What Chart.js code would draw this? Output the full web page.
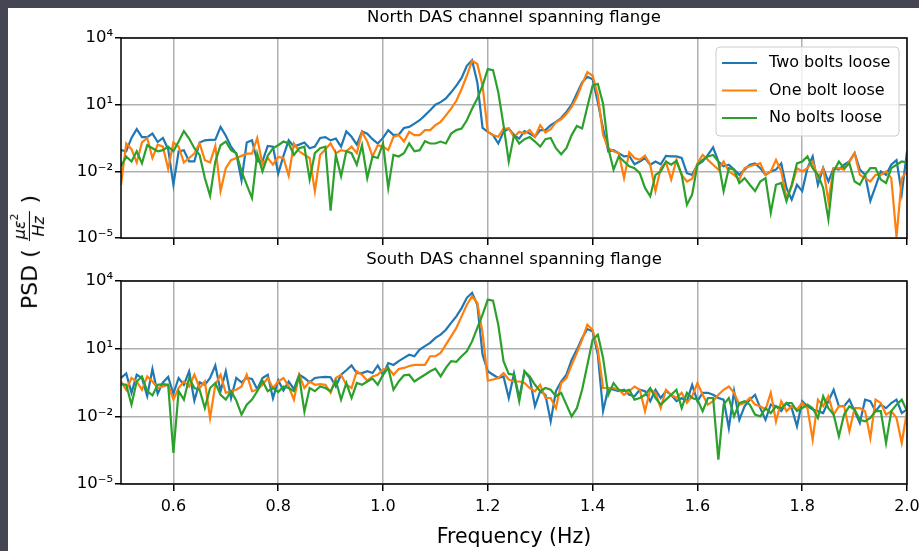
<!DOCTYPE html>
<html>
<head>
<meta charset="utf-8">
<script src="https://cdn.jsdelivr.net/npm/chart.js@4.4.1/dist/chart.umd.min.js"></script>
<style>
html,body{margin:0;padding:0;}
body{width:919px;height:551px;overflow:hidden;background:#444654;position:relative;font-family:"DejaVu Sans",sans-serif;}
#panel{position:absolute;left:8px;top:8px;width:911px;height:543px;background:#fff;}
canvas{position:absolute;left:0;}
#north{top:0;width:940px;height:250px;}
#south{top:240px;width:940px;height:311px;}
#ylabel{position:absolute;left:29px;top:252px;transform:translate(-50%,-50%) rotate(-90deg);font-size:22px;white-space:nowrap;display:flex;align-items:center;color:#000;}
.frac{display:inline-flex;flex-direction:column;align-items:center;font-style:italic;font-size:16px;line-height:1.1;margin:0 8px;}
.num{border-bottom:1px solid #000;padding:0 2px;}
.num sup{font-size:11px;font-style:normal;vertical-align:7px;line-height:0;}
.den{padding:0 2px;}
</style>
</head>
<body>
<div id="panel"></div>
<canvas id="north" width="940" height="250"></canvas>
<canvas id="south" width="940" height="311"></canvas>
<div id="ylabel">PSD (<span class="frac"><span class="num">με<sup>2</sup></span><span class="den">Hz</span></span>)</div>
<script>
// ====== Data ======
const freq = [
  0.50,0.51,0.52,0.53,0.54,0.55,0.56,0.57,0.58,0.59,
  0.60,0.61,0.62,0.63,0.64,0.65,0.66,0.67,0.68,0.69,
  0.70,0.71,0.72,0.73,0.74,0.75,0.76,0.77,0.78,0.79,
  0.80,0.81,0.82,0.83,0.84,0.85,0.86,0.87,0.88,0.89,
  0.90,0.91,0.92,0.93,0.94,0.95,0.96,0.97,0.98,0.99,
  1.00,1.01,1.02,1.03,1.04,1.05,1.06,1.07,1.08,1.09,
  1.10,1.11,1.12,1.13,1.14,1.15,1.16,1.17,1.18,1.19,
  1.20,1.21,1.22,1.23,1.24,1.25,1.26,1.27,1.28,1.29,
  1.30,1.31,1.32,1.33,1.34,1.35,1.36,1.37,1.38,1.39,
  1.40,1.41,1.42,1.43,1.44,1.45,1.46,1.47,1.48,1.49,
  1.50,1.51,1.52,1.53,1.54,1.55,1.56,1.57,1.58,1.59,
  1.60,1.61,1.62,1.63,1.64,1.65,1.66,1.67,1.68,1.69,
  1.70,1.71,1.72,1.73,1.74,1.75,1.76,1.77,1.78,1.79,
  1.80,1.81,1.82,1.83,1.84,1.85,1.86,1.87,1.88,1.89,
  1.90,1.91,1.92,1.93,1.94,1.95,1.96,1.97,1.98,1.99,
  2.00
];

// North DAS channel
const northTwo = [
  0.09,0.08,0.32,0.8,0.35,0.35,0.5,0.21,0.32,0.1,
  0.0025,0.08,0.09,0.028,0.028,0.2,0.25,0.26,0.27,1,
  0.4,0.13,0.063,0.004,0.2,0.25,0.028,0.028,0.14,0.13,
  0.008,0.05,0.25,0.13,0.16,0.2,0.11,0.13,0.32,0.35,
  0.25,0.3,0.13,0.63,0.36,0.16,0.63,0.5,0.28,0.18,
  0.32,0.72,0.43,0.45,0.9,1,1.4,2,3.3,5.6,
  10,13,19,36,72,160,560,1000,100,0.9,
  0.6,0.43,0.18,0.6,0.85,0.43,0.3,0.65,0.5,0.36,
  0.72,0.72,1.2,1.7,2.5,4.7,10,32,100,180,
  140,13,0.85,0.08,0.09,0.066,0.047,0.05,0.021,0.028,
  0.04,0.02,0.028,0.021,0.05,0.047,0.047,0.04,0.0083,0.007,
  0.02,0.028,0.055,0.12,0.028,0.017,0.02,0.012,0.007,0.012,
  0.02,0.023,0.014,0.007,0.01,0.012,0.023,0.0018,0.00054,0.0025,
  0.0013,0.014,0.047,0.0025,0.014,0.0035,0.014,0.012,0.02,0.028,
  0.066,0.012,0.007,0.00047,0.0021,0.01,0.007,0.02,0.032,0.001,
  0.08
];
const northOne = [
  0.0025,0.18,0.1,0.025,0.2,0.32,0.04,0.16,0.13,0.013,
  0.2,0.13,0.025,0.04,0.063,0.18,0.032,0.025,0.14,0.0013,
  0.014,0.032,0.04,0.05,0.063,0.063,0.32,0.02,0.04,0.02,
  0.045,0.04,0.0063,0.18,0.08,0.056,0.04,0.0013,0.055,0.1,
  0.18,0.066,0.09,0.08,0.13,0.066,0.6,0.22,0.047,0.15,
  0.13,0.09,0.36,0.43,0.22,0.6,0.43,0.43,0.72,0.72,
  1.2,1.7,3.3,6.6,15,51,200,950,680,72,
  0.6,0.43,0.36,0.85,0.85,0.36,0.6,0.5,0.72,0.36,
  1.2,0.56,0.8,1.6,2.2,3.8,8,22,87,290,
  200,26,0.43,0.11,0.08,0.066,0.005,0.072,0.04,0.033,
  0.051,0.02,0.0013,0.014,0.026,0.0043,0.033,0.007,0.0035,0.0047,
  0.023,0.055,0.033,0.02,0.012,0.028,0.01,0.007,0.0043,0.014,
  0.017,0.02,0.023,0.007,0.01,0.033,0.01,0.00063,0.0021,0.014,
  0.01,0.014,0.028,0.005,0.014,0.00046,0.014,0.014,0.012,0.028,
  0.066,0.007,0.005,0.0035,0.007,0.007,0.01,0.005,0.000011,0.005,
  0.01
];
const northNone = [
  0.017,0.047,0.028,0.08,0.023,0.15,0.11,0.08,0.09,0.13,
  0.08,0.22,0.65,0.3,0.11,0.055,0.005,0.0008,0.028,0.15,
  0.22,0.09,0.066,0.01,0.0025,0.00063,0.063,0.01,0.05,0.11,
  0.15,0.22,0.18,0.055,0.11,0.13,0.0043,0.066,0.11,0.13,
  0.00017,0.055,0.006,0.08,0.066,0.02,0.15,0.005,0.047,0.04,
  0.18,0.0018,0.055,0.047,0.066,0.18,0.08,0.09,0.23,0.18,
  0.18,0.22,0.18,0.5,0.72,0.85,2,6.6,19,72,
  400,360,36,1.2,0.028,0.43,0.18,0.28,0.35,0.22,
  0.13,0.28,0.32,0.11,0.059,0.11,0.43,1.1,0.85,8,
  72,87,11,0.11,0.012,0.047,0.028,0.017,0.014,0.0083,
  0.0018,0.00076,0.007,0.01,0.028,0.02,0.03,0.007,0.00032,0.00091,
  0.02,0.033,0.047,0.055,0.028,0.0013,0.014,0.012,0.003,0.005,
  0.0025,0.0013,0.0035,0.005,0.00014,0.0025,0.003,0.00046,0.0025,0.023,
  0.028,0.047,0.014,0.007,0.0018,0.00007,0.01,0.028,0.014,0.023,
  0.0035,0.0025,0.007,0.014,0.014,0.0043,0.003,0.014,0.02,0.028,
  0.025
];

// South DAS channel
const southTwo = [
  0.5,0.8,0.11,0.7,0.5,0.08,1.26,0.1,0.32,0.56,
  0.1,0.5,0.25,1,0.05,0.32,0.25,0.5,1.8,0.13,
  1,0.063,0.5,0.32,0.5,0.45,0.16,0.5,0.7,0.063,
  0.4,0.14,0.35,0.16,0.7,0.5,0.32,0.5,0.54,0.56,
  0.54,0.21,0.7,1.1,1.8,0.83,0.83,1,0.83,1.8,
  0.7,2.3,1.9,2.8,3.9,5.4,4.6,9.1,13,18,
  30,42,69,140,270,630,1800,3000,890,5.4,
  1,0.7,0.5,0.59,0.065,0.8,0.065,1,0.5,0.028,
  0.13,0.09,0.006,0.13,0.35,0.7,3.2,9.1,30,74,
  59,5.4,0.017,0.18,0.15,0.13,0.15,0.09,0.078,0.15,
  0.13,0.047,0.15,0.065,0.13,0.09,0.047,0.065,0.047,0.25,
  0.047,0.11,0.11,0.09,0.065,0.055,0.003,0.13,0.007,0.028,
  0.055,0.09,0.023,0.007,0.033,0.028,0.017,0.039,0.023,0.0036,
  0.047,0.028,0.02,0.017,0.014,0.047,0.15,0.028,0.028,0.055,
  0.017,0.0051,0.055,0.047,0.017,0.033,0.023,0.039,0.055,0.014,
  0.02
];
const southOne = [
  0.35,0.15,0.5,0.35,0.15,0.59,0.35,0.18,0.21,0.25,
  0.055,0.18,0.35,0.21,0.7,0.18,0.35,0.0085,0.25,0.7,
  0.11,0.13,0.15,0.21,0.7,0.13,0.15,0.25,0.5,0.18,
  0.35,0.5,0.21,0.055,0.7,0.18,0.35,0.25,0.27,0.25,
  0.11,0.5,0.7,0.25,0.18,1,0.7,0.38,0.59,0.7,
  1.2,1.4,0.7,1.26,1.4,1.7,1.9,1.9,1.9,4.6,
  4.6,6.5,15,35,83,270,890,2100,1050,50,
  0.38,0.43,0.5,0.83,0.43,0.35,0.35,0.3,0.18,0.13,
  0.25,0.065,0.065,0.023,0.3,0.5,1.9,6.5,25,115,
  69,9.1,0.18,0.18,0.18,0.15,0.09,0.13,0.21,0.15,
  0.017,0.15,0.11,0.023,0.15,0.09,0.065,0.11,0.04,0.078,
  0.3,0.09,0.033,0.047,0.09,0.15,0.21,0.11,0.033,0.039,
  0.065,0.033,0.028,0.02,0.11,0.006,0.047,0.017,0.028,0.02,
  0.039,0.023,0.00093,0.055,0.028,0.078,0.012,0.028,0.028,0.0022,
  0.023,0.023,0.017,0.0011,0.055,0.039,0.012,0.017,0.0085,0.00066,
  0.017
];
const southNone = [
  0.27,0.25,0.033,0.35,0.59,0.13,0.085,0.25,0.27,0.25,
  0.00024,0.13,0.055,0.5,0.18,0.15,0.023,0.18,0.3,0.09,
  0.055,0.13,0.05,0.012,0.033,0.055,0.13,0.38,0.13,0.18,
  0.12,0.21,0.18,0.13,0.59,0.016,0.18,0.13,0.21,0.18,
  0.13,0.38,0.055,0.3,0.065,0.3,0.25,0.35,0.47,0.25,
  0.7,1.4,0.15,0.35,0.66,0.7,0.35,0.5,0.7,1,
  1.3,0.59,1.4,2.8,2.6,4.6,7.6,21,83,320,
  1500,1350,115,2.8,0.76,0.7,0.047,1,0.59,0.25,
  0.13,0.18,0.15,0.078,0.11,0.033,0.01,0.023,0.15,1.9,
  25,42,3.9,0.09,0.3,0.15,0.13,0.15,0.055,0.065,
  0.09,0.18,0.065,0.033,0.055,0.09,0.15,0.023,0.11,0.065,
  0.055,0.017,0.065,0.065,0.00012,0.033,0.065,0.01,0.039,0.047,
  0.033,0.012,0.01,0.023,0.014,0.028,0.023,0.039,0.039,0.017,
  0.023,0.033,0.023,0.0085,0.078,0.023,0.012,0.0013,0.012,0.028,
  0.02,0.007,0.006,0.0085,0.017,0.017,0.00066,0.017,0.033,0.055,
  0.017
];

const seriesNames = ['Two bolts loose','One bolt loose','No bolts loose'];
const seriesColors = ['#1f77b4','#ff7f0e','#2ca02c'];
const xTicks = [0.6,0.8,1.0,1.2,1.4,1.6,1.8,2.0];
const yTicks = [1e-5,1e-2,1e1,1e4];
const yTickLabels = ['10⁻⁵','10⁻²','10¹','10⁴'];

// ====== Plugins ======
const FONT = '"DejaVu Sans", sans-serif';

const frame = {
  id:'frame',
  afterDatasetsDraw(c){
    const {ctx, chartArea:a} = c;
    ctx.save(); ctx.strokeStyle = '#000'; ctx.lineWidth = 1.5;
    ctx.strokeRect(a.left, a.top, a.right-a.left, a.bottom-a.top);
    ctx.restore();
  }
};

const panelTitle = {
  id:'panelTitle',
  afterDraw(c, args, o){
    if(!o.text) return;
    const {ctx, chartArea:a} = c;
    ctx.save(); ctx.font = `16.5px ${FONT}`; ctx.fillStyle = '#000';
    ctx.textAlign = 'center'; ctx.textBaseline = 'middle';
    ctx.fillText(o.text, (a.left+a.right)/2, a.top - o.offset);
    ctx.restore();
  }
};

// matplotlib style legend box, upper right
const boxLegend = {
  id:'boxLegend',
  afterDraw(c, args, o){
    if(!o.show) return;
    const {ctx, chartArea:a} = c;
    const w = 183, h = 89, x = a.right - 191, y = a.top + 9;
    ctx.save();
    ctx.beginPath(); ctx.roundRect(x, y, w, h, 4);
    ctx.fillStyle = 'rgba(255,255,255,0.8)'; ctx.fill();
    ctx.strokeStyle = '#cccccc'; ctx.lineWidth = 1; ctx.stroke();
    ctx.font = `16px ${FONT}`; ctx.textBaseline = 'middle'; ctx.textAlign = 'left';
    c.data.datasets.forEach((d, i) => {
      const cy = y + 16 + i*27.5;
      ctx.beginPath(); ctx.moveTo(x+6, cy); ctx.lineTo(x+41, cy);
      ctx.strokeStyle = d.borderColor; ctx.lineWidth = 2.2; ctx.stroke();
      ctx.fillStyle = '#000'; ctx.fillText(d.label, x+53, cy);
    });
    ctx.restore();
  }
};

// ====== Charts ======
function makeChart(id, series, opt){
  return new Chart(document.getElementById(id), {
    type:'line',
    data:{
      datasets: series.map((s, i) => ({
        label: seriesNames[i],
        data: freq.map((f, k) => ({ x:f, y:s[k] })),
        borderColor: seriesColors[i], backgroundColor: seriesColors[i],
        borderWidth: 2.2, pointRadius: 0, tension: 0, fill: false, order: 2-i
      }))
    },
    options:{
      responsive:false, animation:false, devicePixelRatio:1, events:[],
      layout:{ padding:{ left:0, top:opt.top, right:33, bottom:0 } },
      plugins:{
        legend:{ display:false }, tooltip:{ enabled:false },
        panelTitle:{ text:opt.title, offset:opt.titleOffset },
        boxLegend:{ show:opt.legend }
      },
      scales:{
        x:{
          type:'linear', min:0.5, max:2.0,
          afterBuildTicks: s => { s.ticks = xTicks.map(v => ({ value:v })); },
          afterFit: s => { s.height = opt.xHeight; },
          ticks:{ display:opt.xLabels, autoSkip:false, maxRotation:0, padding:6, color:'#000',
                  font:{ size:16, family:FONT }, callback: v => Number(v).toFixed(1) },
          grid:{ color:'#b0b0b0', lineWidth:1.5, tickColor:'#000', tickLength:7, tickWidth:1.5 },
          border:{ display:false },
          title:{ display:!!opt.xTitle, text:opt.xTitle || '', color:'#000',
                  font:{ size:20.5, family:FONT }, padding:{ top:0, bottom:1 } }
        },
        y:{
          type:'logarithmic', min:1e-5, max:1e4,
          afterBuildTicks: s => { s.ticks = yTicks.map(v => ({ value:v, major:true })); },
          afterFit: s => { s.width = 121; },
          ticks:{ autoSkip:false, padding:2, color:'#000', font:{ size:16.5, family:FONT },
                  callback: (v, i) => yTickLabels[i] },
          grid:{ color:'#b0b0b0', lineWidth:1.5, tickColor:'#000', tickLength:6, tickWidth:1.5 },
          border:{ display:false }
        }
      }
    },
    plugins:[frame, panelTitle, boxLegend]
  });
}

makeChart('north', [northTwo, northOne, northNone], {
  top:38, xHeight:10, xLabels:false, title:'North DAS channel spanning flange', titleOffset:20, legend:true
});
makeChart('south', [southTwo, southOne, southNone], {
  top:41, xHeight:67, xLabels:true, xTitle:'Frequency (Hz)', title:'South DAS channel spanning flange', titleOffset:21, legend:false
});
</script>
</body>
</html>
